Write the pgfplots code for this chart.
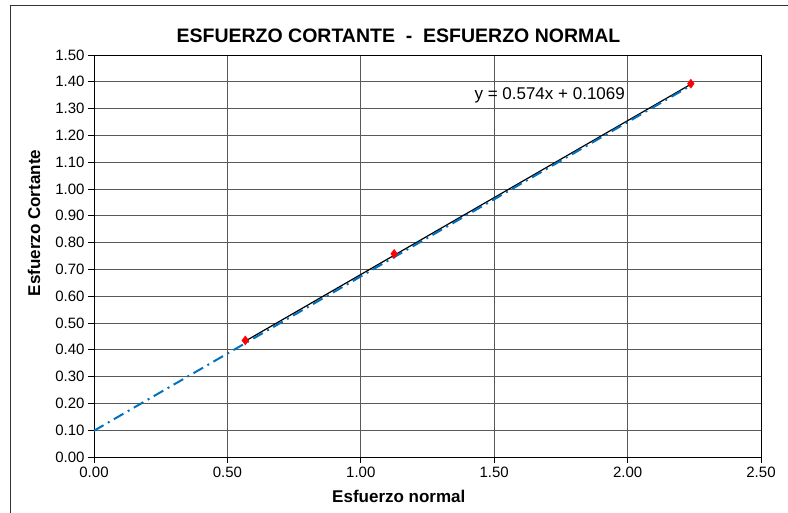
\documentclass[border=0pt]{standalone}
\usepackage{pgfplots}
\pgfplotsset{compat=1.18}
\usepackage{fontspec}
\setmainfont{Liberation Sans}
\definecolor{lineblue}{RGB}{0,112,192}
\begin{document}
\begin{tikzpicture}
\useasboundingbox (0pt,0pt) rectangle (788pt,513pt);
\draw[black!80, line width=1pt] (10pt,-5pt) -- (10pt,507pt) -- (800pt,507pt);
\begin{axis}[
  at={(94pt,56pt)}, anchor=south west,
  scale only axis, width=667pt, height=402pt,
  xmin=0, xmax=2.5, ymin=0, ymax=1.5,
  xtick={0,0.5,...,2.5},
  ytick={0,0.1,...,1.5},
  grid=major,
  grid style={black!65, line width=0.9pt},
  axis line style={black, line width=0.9pt},
  tick align=outside, major tick length=6pt,
  tick style={black, line width=0.8pt},
  xtick pos=bottom, ytick pos=left,
  /pgf/number format/.cd, fixed, fixed zerofill, precision=2, assume math mode=true,
  /pgfplots/.cd,
  ticklabel style={font=\fontsize{15}{16}\selectfont},
  xticklabel style={yshift=0pt},
  title={\bfseries ESFUERZO CORTANTE\ \ -\ \ ESFUERZO NORMAL},
  title style={font=\fontsize{19.5}{21}\selectfont, xshift=-29pt, yshift=3pt},
  xlabel={\bfseries Esfuerzo normal},
  ylabel={\bfseries Esfuerzo Cortante},
  label style={font=\fontsize{17}{18}\selectfont},
  xlabel style={at={(ticklabel cs:0.457)}, yshift=-6pt},
  ylabel style={at={(ticklabel cs:0.582)}, yshift=8pt},
  clip=false,
]
\addplot[black, line width=1.2pt] coordinates {(0.567,0.4324) (2.237,1.3909)};
\addplot[lineblue, line width=2pt, dash pattern=on 11pt off 5pt on 2pt off 5pt] coordinates {(0,0.098) (2.237,1.386)};
\addplot[only marks, mark=diamond*, mark size=4.5pt, color=red] coordinates {
(0.567,0.435) (1.125,0.758) (2.237,1.393)};
\node[anchor=center, font=\fontsize{17}{18}\selectfont] at (axis cs:1.708,1.351) {y = 0.574x + 0.1069};
\end{axis}
\end{tikzpicture}
\end{document}
